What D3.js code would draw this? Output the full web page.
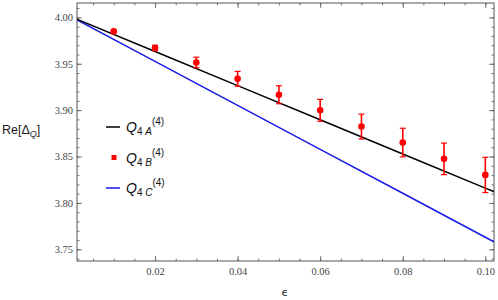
<!DOCTYPE html>
<html>
<head>
<meta charset="utf-8">
<script src="https://cdn.jsdelivr.net/npm/d3@7"></script>
<style>
  body { margin: 0; background: #fff; }
  svg { display: block; }
</style>
</head>
<body>
<div id="viz"></div>
<script>
// data
const lineEps = [0, 0.02, 0.04, 0.06, 0.08, 0.10, 0.104];
const valuesA = [4.000, 3.9632, 3.9264, 3.8896, 3.8528, 3.8160, 3.8086];
const valuesC = [4.000, 3.9526, 3.9052, 3.8578, 3.8104, 3.7630, 3.7535];

const epsB = [0.01, 0.02, 0.03, 0.04, 0.05, 0.06, 0.07, 0.08, 0.09, 0.10];
const valuesB = [3.9849, 3.9670, 3.9514, 3.9338, 3.9166, 3.8998, 3.8823, 3.8651, 3.8475, 3.8302];
const errorsB = [0.001, 0.003, 0.0057, 0.008, 0.0097, 0.0118, 0.0134, 0.0154, 0.017, 0.019];

const xTicks = [0.02, 0.04, 0.06, 0.08, 0.10];
const yTicks = [3.75, 3.80, 3.85, 3.90, 3.95, 4.00];

const colorA = "#000000", colorB = "#ff0000", colorC = "#1a1ae6";

const w = 498, h = 300;
const mLeft = 77, mRight = 494, mTop = 3, mBottom = 261;

const svg = d3.select("#viz")
  .append("svg")
  .attr("width", w)
  .attr("height", h);

const x = d3.scaleLinear().domain([0.0011, 0.1021]).range([mLeft, mRight]);
const y = d3.scaleLinear().domain([3.7374, 4.0155]).range([mBottom, mTop]);

const fmt = d => d.toFixed(2);

// clip
svg.append("clipPath").attr("id", "clip")
  .append("rect")
  .attr("x", mLeft).attr("y", mTop)
  .attr("width", mRight - mLeft).attr("height", mBottom - mTop);

// axes (frame with inward ticks)
const xMinor = d3.range(0, 0.1021, 0.005).filter(v => v >= 0.0011);
const yMinor = d3.range(3.74, 4.016, 0.01);

const frameColor = "#555";
const g = svg.append("g").attr("class", "frame");

g.append("g").attr("transform", `translate(0,${mBottom})`)
  .call(d3.axisBottom(x).tickValues(xMinor).tickSize(-2.5).tickFormat(""));
g.append("g").attr("transform", `translate(0,${mBottom})`)
  .call(d3.axisBottom(x).tickValues(xTicks).tickSize(-5).tickPadding(7).tickFormat(fmt));
g.append("g").attr("transform", `translate(0,${mTop})`)
  .call(d3.axisTop(x).tickValues(xMinor).tickSize(-2.5).tickFormat(""));
g.append("g").attr("transform", `translate(0,${mTop})`)
  .call(d3.axisTop(x).tickValues(xTicks).tickSize(-5).tickFormat(""));

g.append("g").attr("transform", `translate(${mLeft},0)`)
  .call(d3.axisLeft(y).tickValues(yMinor).tickSize(-2.5).tickFormat(""));
g.append("g").attr("transform", `translate(${mLeft},0)`)
  .call(d3.axisLeft(y).tickValues(yTicks).tickSize(-5).tickPadding(4).tickFormat(fmt));
g.append("g").attr("transform", `translate(${mRight},0)`)
  .call(d3.axisRight(y).tickValues(yMinor).tickSize(-2.5).tickFormat(""));
g.append("g").attr("transform", `translate(${mRight},0)`)
  .call(d3.axisRight(y).tickValues(yTicks).tickSize(-5).tickFormat(""));

g.selectAll(".domain").remove();
g.selectAll("line").attr("stroke", frameColor).attr("stroke-width", 0.8);
g.selectAll("text")
  .attr("font-family", "Liberation Serif, serif")
  .attr("font-size", 10.5)
  .attr("fill", "#444");

svg.append("rect")
  .attr("x", mLeft).attr("y", mTop)
  .attr("width", mRight - mLeft).attr("height", mBottom - mTop)
  .attr("fill", "none")
  .attr("stroke", frameColor)
  .attr("stroke-width", 1);

// lines
const line = d3.line().x(d => x(d[0])).y(d => y(d[1]));
const plot = svg.append("g").attr("clip-path", "url(#clip)");

plot.append("path")
  .datum(lineEps.map((e, i) => [e, valuesC[i]]))
  .attr("d", line)
  .attr("fill", "none")
  .attr("stroke", colorC)
  .attr("stroke-width", 1.5);

plot.append("path")
  .datum(lineEps.map((e, i) => [e, valuesA[i]]))
  .attr("d", line)
  .attr("fill", "none")
  .attr("stroke", colorA)
  .attr("stroke-width", 1.5);

// points with error bars
const pts = epsB.map((e, i) => ({ e: e, v: valuesB[i], err: errorsB[i] }));
const bars = plot.selectAll(".eb").data(pts).enter().append("g").attr("class", "eb");
bars.append("line")
  .attr("x1", d => x(d.e)).attr("x2", d => x(d.e))
  .attr("y1", d => y(d.v - d.err)).attr("y2", d => y(d.v + d.err))
  .attr("stroke", colorB).attr("stroke-width", 1.6);
bars.append("line")
  .attr("x1", d => x(d.e) - 3).attr("x2", d => x(d.e) + 3)
  .attr("y1", d => y(d.v - d.err)).attr("y2", d => y(d.v - d.err))
  .attr("stroke", colorB).attr("stroke-width", 1.2);
bars.append("line")
  .attr("x1", d => x(d.e) - 3).attr("x2", d => x(d.e) + 3)
  .attr("y1", d => y(d.v + d.err)).attr("y2", d => y(d.v + d.err))
  .attr("stroke", colorB).attr("stroke-width", 1.2);
bars.append("circle")
  .attr("cx", d => x(d.e)).attr("cy", d => y(d.v))
  .attr("r", 3.3)
  .attr("fill", colorB);

// axis labels
const ylab = svg.append("text")
  .attr("x", 2).attr("y", 134)
  .attr("font-family", "Liberation Sans, Arial, sans-serif")
  .attr("font-size", 12.5)
  .attr("fill", "#222");
ylab.append("tspan").text("Re[Δ");
ylab.append("tspan").attr("font-size", 9).attr("font-style", "italic").attr("dy", 3).text("Q");
ylab.append("tspan").attr("dy", -3).text("]");

svg.append("text")
  .attr("x", 285).attr("y", 296)
  .attr("text-anchor", "middle")
  .attr("font-family", "DejaVu Sans, sans-serif")
  .attr("font-size", 11)
  .attr("fill", "#222")
  .text("ϵ");

// legend
const legendNames = ["A", "B", "C"];
const legendColors = [colorA, colorB, colorC];
const legendKinds = ["line", "point", "line"];
const legend = svg.append("g");
legendNames.forEach((name, i) => {
  const ly = 127 + i * 30.5;
  if (legendKinds[i] === "line") {
    legend.append("line")
      .attr("x1", 106).attr("x2", 120)
      .attr("y1", ly).attr("y2", ly)
      .attr("stroke", legendColors[i]).attr("stroke-width", 1.5);
  } else {
    legend.append("rect")
      .attr("x", 111.5).attr("y", ly - 2.5)
      .attr("width", 5).attr("height", 5)
      .attr("fill", legendColors[i]);
  }
  const t = legend.append("text")
    .attr("x", 126).attr("y", ly + 5)
    .attr("font-family", "Liberation Sans, Arial, sans-serif")
    .attr("font-size", 14)
    .attr("fill", "#111");
  t.append("tspan").attr("font-style", "italic").text("Q");
  t.append("tspan").attr("font-size", 10).attr("dy", 3).text("4 ");
  t.append("tspan").attr("font-size", 10).attr("font-style", "italic").text(name);
  t.append("tspan").attr("font-size", 10).attr("dy", -10).text("(4)");
});
</script>
</body>
</html>
